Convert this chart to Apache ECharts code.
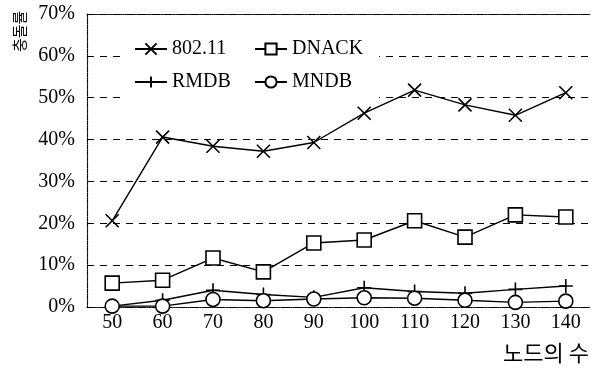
<!DOCTYPE html>
<html>
<head>
<meta charset="utf-8">
<script src="https://cdn.jsdelivr.net/npm/echarts@6/dist/echarts.min.js"></script>
<style>html,body{margin:0;padding:0;background:#fff}#c{width:593px;height:378px}</style>
</head>
<body>
<div id="c"></div>
<script>
const categories = ['50','60','70','80','90','100','110','120','130','140'];
const s80211 = [20.6, 40.6, 38.4, 37.2, 39.3, 46.3, 51.8, 48.3, 45.8, 51.2];
const sDNACK = [5.7, 6.4, 11.7, 8.4, 15.3, 16.0, 20.6, 16.7, 22.0, 21.5];
const sRMDB = [0.2, 1.6, 4.0, 3.0, 2.3, 4.6, 3.7, 3.3, 4.2, 5.0];
const sMNDB = [0.2, 0.2, 1.8, 1.5, 1.9, 2.2, 2.1, 1.6, 1.1, 1.4];
const yTicks = [0, 10, 20, 30, 40, 50, 60, 70];

const FONT = '"Liberation Serif","Noto Sans CJK KR",serif';
const KFONT = '"Noto Sans CJK KR","Liberation Serif",serif';
const X_PATH = 'path://M0,0L10,10M10,0L0,10';
const PLUS_PATH = 'path://M5,0L5,10M0,5L10,5';

function mkSeries(name, data, symbol, size) {
  return {
    name: name, type: 'line', data: data,
    symbol: symbol, symbolSize: size, showSymbol: true,
    lineStyle: {color: '#000', width: 1.4},
    itemStyle: {color: '#fff', borderColor: '#000', borderWidth: 1.6},
    emphasis: {disabled: true},
    z: 6
  };
}

const chart = echarts.init(document.getElementById('c'), null, {renderer: 'canvas'});
chart.setOption({
  animation: false,
  backgroundColor: '#fff',
  grid: {left: 87, top: 14, right: 2, bottom: 71},
  xAxis: [{
    type: 'category', data: categories, boundaryGap: true,
    axisLine: {lineStyle: {color: '#000', type: 'dotted', width: 1.2}},
    axisTick: {inside: true, length: 5, lineStyle: {color: '#000'}},
    axisLabel: {color: '#000', fontFamily: FONT, fontSize: 20, margin: 6},
    splitLine: {show: false}
  }, {
    type: 'category', data: categories, position: 'top', boundaryGap: true,
    axisLine: {lineStyle: {color: '#000', type: 'dotted', width: 1.2}},
    axisTick: {show: false}, axisLabel: {show: false}, splitLine: {show: false}
  }],
  yAxis: {
    type: 'value', min: yTicks[0], max: yTicks[yTicks.length - 1], interval: 10,
    axisLine: {show: true, lineStyle: {color: '#000', type: 'dotted', width: 1.2}},
    axisTick: {show: true, inside: true, length: 5, lineStyle: {color: '#000'}},
    axisLabel: {color: '#000', fontFamily: FONT, fontSize: 20, margin: 12, formatter: '{value}%'},
    splitLine: {lineStyle: {color: '#000', type: [7, 6], width: 1}}
  },
  legend: [{
    data: ['802.11', 'RMDB'], orient: 'vertical', left: 122, top: 29,
    itemWidth: 32, itemHeight: 14, itemGap: 13,
    padding: [10, 16, 12, 12], backgroundColor: '#fff', z: 4,
    textStyle: {color: '#000', fontFamily: FONT, fontSize: 20},
    selectedMode: false
  }, {
    data: ['DNACK', 'MNDB'], orient: 'vertical', left: 246, top: 29,
    itemWidth: 32, itemHeight: 14, itemGap: 13,
    padding: [10, 16, 12, 8], backgroundColor: '#fff', z: 4,
    textStyle: {color: '#000', fontFamily: FONT, fontSize: 20},
    selectedMode: false
  }],
  graphic: [{
    type: 'text', x: 12, y: 52, rotation: Math.PI / 2,
    style: {text: '충돌률', fill: '#000', fontSize: 15, fontFamily: KFONT, align: 'left', verticalAlign: 'top'}
  }, {
    type: 'text', right: 4, top: 342,
    style: {text: '노드의 수', fill: '#000', fontSize: 22, fontFamily: KFONT}
  }],
  series: [
    mkSeries('802.11', s80211, X_PATH, 13),
    mkSeries('DNACK', sDNACK, 'rect', 14),
    mkSeries('RMDB', sRMDB, PLUS_PATH, 14),
    mkSeries('MNDB', sMNDB, 'circle', 14)
  ]
});
</script>
</body>
</html>
